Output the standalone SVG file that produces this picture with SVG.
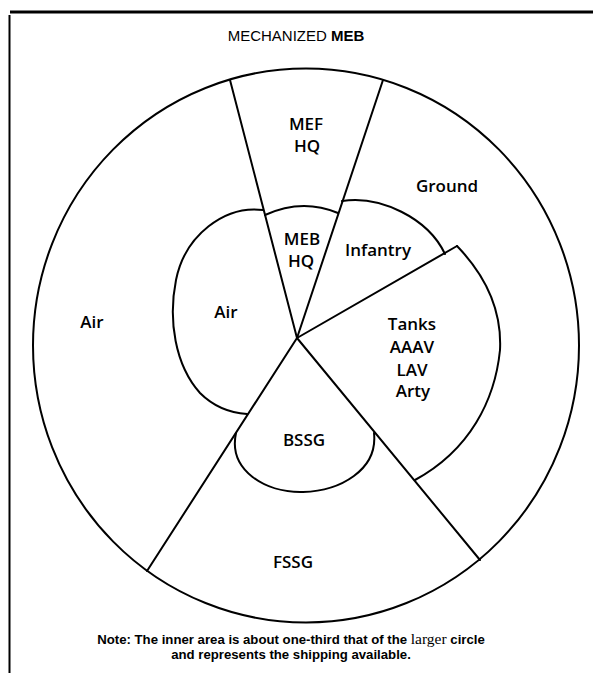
<svg xmlns="http://www.w3.org/2000/svg" width="593" height="673" viewBox="0 0 593 673">
<style>
.ln{fill:none;stroke:#000;stroke-width:2;stroke-linecap:round;stroke-linejoin:round}
.lb{font-family:"Open Sans","Noto Sans",sans-serif;font-size:17px;font-weight:600;fill:#000;text-anchor:middle}
.nt{font-family:"Liberation Sans",Arial,sans-serif;font-size:13.2px;font-weight:bold;fill:#000;text-anchor:middle}
</style>
<rect width="593" height="673" fill="#fff"/>
<g id="frame">
<line x1="10" y1="12" x2="593" y2="12" stroke="#000" stroke-width="3"/>
<line x1="9.5" y1="15" x2="9.5" y2="673" stroke="#000" stroke-width="2"/>
</g>
<g id="title">
<text x="296" y="41" font-family="'Liberation Sans',Arial,sans-serif" font-size="15" fill="#000" text-anchor="middle">MECHANIZED <tspan font-weight="bold">MEB</tspan></text>
</g>
<g id="outer-circle">
<ellipse class="ln" cx="306" cy="345.5" rx="273" ry="277"/>
</g>
<g id="connectors">
<line class="ln" x1="297" y1="338" x2="230" y2="80"/>
<line class="ln" x1="297" y1="338" x2="383" y2="80"/>
<line class="ln" x1="297" y1="338" x2="457" y2="246"/>
<line class="ln" x1="297" y1="338" x2="480" y2="560"/>
<line class="ln" x1="297" y1="338" x2="147" y2="571"/>
</g>
<g id="mef-hq"><text class="lb" font-size="19"><tspan x="306" y="130">MEF</tspan><tspan x="307" y="152">HQ</tspan></text></g>
<g id="ground"><text class="lb" x="447" y="192" font-size="19">Ground</text></g>
<g id="air-outer"><text class="lb" x="92" y="328" font-size="18">Air</text></g>
<g id="fssg"><text class="lb" x="293" y="568" font-size="18.5">FSSG</text></g>
<g id="meb-hq">
<path class="ln" d="M265,215 Q302,198 338,213"/>
<text class="lb" font-size="16"><tspan x="302" y="245">MEB</tspan><tspan x="301" y="267">HQ</tspan></text>
</g>
<g id="infantry">
<path class="ln" d="M342,201 C380,195 428,218 445,254"/>
<text class="lb" x="378" y="256">Infantry</text>
</g>
<g id="air-inner">
<path class="ln" d="M263,210 C225,205 185,235 176,280 C168,320 175,365 200,393 C215,408 232,413 247,414"/>
<text class="lb" x="226" y="318" font-size="16">Air</text>
</g>
<g id="tanks">
<path class="ln" d="M457,246 C485,275 502,310 500,350 C495,400 470,450 415,480"/>
<text class="lb" font-size="16.5"><tspan x="412" y="330">Tanks</tspan><tspan x="412" y="353">AAAV</tspan><tspan x="412" y="376">LAV</tspan><tspan x="413" y="397">Arty</tspan></text>
</g>
<g id="bssg">
<path class="ln" d="M236,433 C228,470 265,493 303,492 C340,491 378,470 374,433"/>
<text class="lb" x="304" y="446">BSSG</text>
</g>
<g id="note">
<text class="nt" x="291" y="644">Note: The inner area is about one-third that of the <tspan font-family="'Liberation Serif',serif" font-weight="normal" font-size="15.5">larger</tspan> circle</text>
<text class="nt" x="291" y="659">and represents the shipping available.</text>
</g>
</svg>
